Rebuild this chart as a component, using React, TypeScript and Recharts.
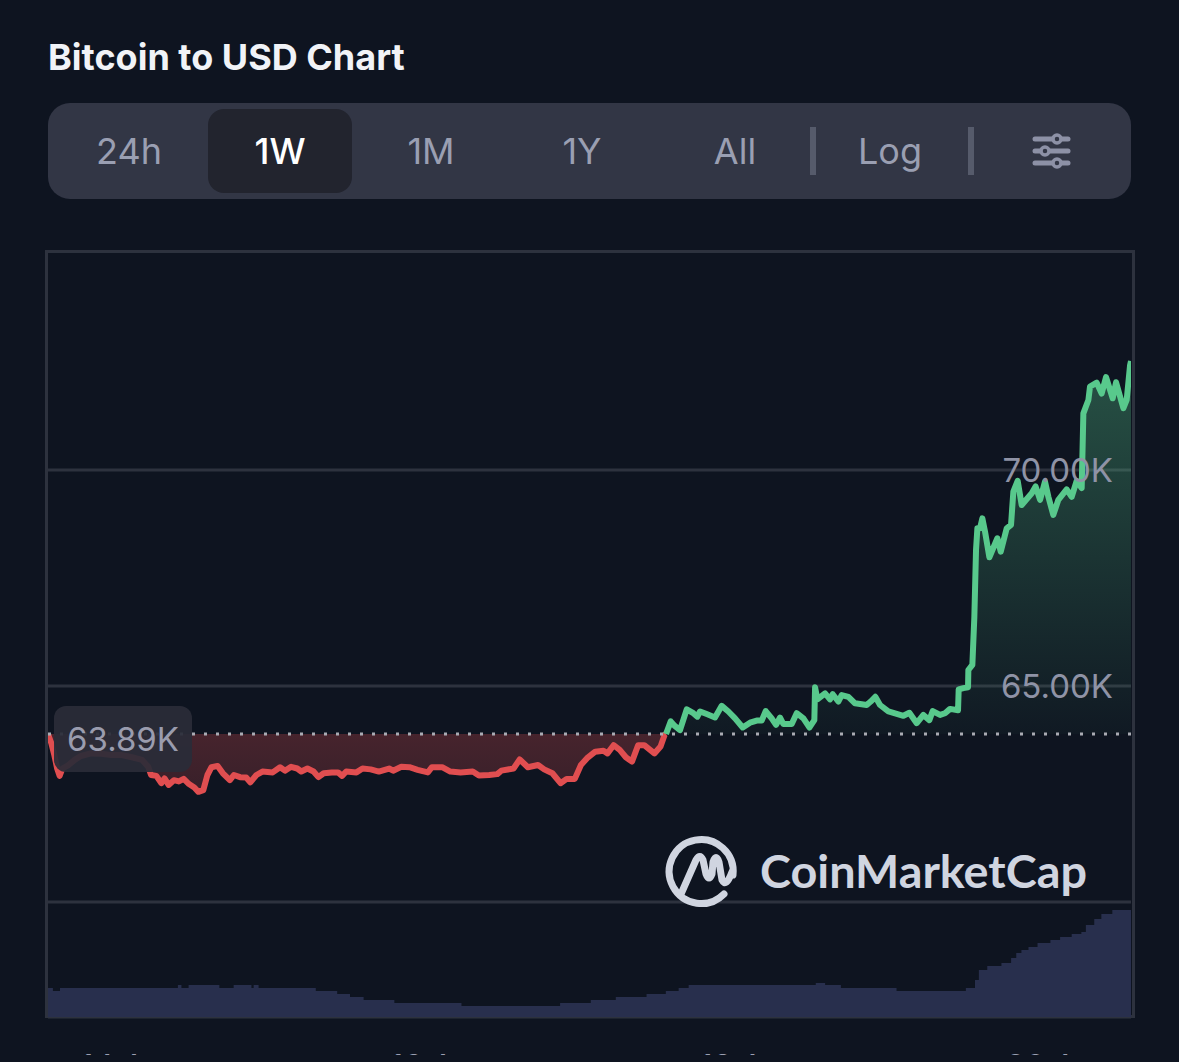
import { Area, CartesianGrid, ComposedChart, ReferenceLine, XAxis, YAxis } from 'recharts';

const ranges = ['24h', '1W', '1M', '1Y', 'All'];
const rangeCenters = [129, 280, 431, 582, 735];

const redHours = [0, 0.53, 0.98, 1.42, 1.8, 2.24, 3.19, 4.14, 5.09, 6.68, 8.26, 9.84, 11.43, 13.01, 14.59, 15.54, 15.99, 16.81, 17.57, 18.08, 18.71, 19.53, 20.29, 21.05, 21.87, 22.7, 23.33, 24.09, 24.73, 25.36, 26.31, 27.13, 28.21, 28.84, 29.79, 30.74, 31.38, 32.33, 33.27, 34.86, 36, 36.76, 37.71, 38.66, 39.29, 40.24, 41.19, 41.95, 42.77, 44.04, 44.99, 45.62, 46.26, 47.84, 48.79, 50.06, 51.32, 52.91, 53.54, 54.81, 56.07, 57.34, 58.92, 59.56, 61.14, 62.41, 64, 65.89, 66.84, 68.43, 69.69, 70.32, 72.22, 73.17, 74.44, 76.02, 76.97, 78.24, 79.51, 80.46, 81.72, 82.67, 83.62, 84.89, 86.16, 86.79, 87.74, 88.69, 89.64, 90.59, 91.54, 92.49, 94.07, 95.02, 95.66, 95.87];
const redPrices = [63.89, 63.67, 63.4, 63.09, 62.92, 63.09, 63.17, 63.29, 63.38, 63.44, 63.43, 63.4, 63.4, 63.35, 63.29, 63.13, 62.94, 62.92, 62.75, 62.86, 62.71, 62.82, 62.79, 62.85, 62.73, 62.65, 62.55, 62.59, 62.94, 63.12, 63.15, 62.98, 62.82, 62.94, 62.89, 62.88, 62.77, 62.94, 63.02, 63, 63.12, 63.04, 63.13, 63.09, 63.02, 63.09, 63.02, 62.89, 62.98, 63, 63, 62.92, 63.02, 63, 63.09, 63.07, 63.02, 63.09, 63.04, 63.13, 63.12, 63.06, 63, 63.12, 63.12, 63.02, 63, 63.02, 62.93, 62.94, 62.96, 63.04, 63.09, 63.3, 63.12, 63.17, 63.07, 62.98, 62.75, 62.85, 62.85, 63.17, 63.33, 63.48, 63.5, 63.44, 63.63, 63.52, 63.35, 63.25, 63.63, 63.63, 63.44, 63.6, 63.87, 63.89];

const greenHours = [95.87, 96.6, 97.27, 98.04, 99.08, 100.11, 100.73, 101.15, 102.18, 103.47, 104.51, 105.54, 106.58, 107.77, 108.9, 109.94, 110.71, 111.33, 112.26, 112.94, 113.56, 114.07, 115.37, 116.14, 117.18, 118.11, 118.88, 118.99, 119.35, 120.54, 121.31, 121.73, 122.6, 123.12, 124.16, 125.19, 127, 127.62, 128.34, 129.07, 130.36, 132.69, 133.62, 134.76, 135.79, 136.72, 137.24, 138.38, 139.15, 139.93, 141.17, 141.27, 142, 142.72, 142.77, 143.39, 143.7, 143.96, 144.17, 144.58, 144.94, 145.36, 146.03, 147.27, 147.79, 148.72, 149.39, 149.75, 150.42, 151.04, 152.6, 153.2, 153.9, 154.66, 155.18, 155.95, 156.73, 158.02, 158.8, 159.57, 160.35, 160.61, 161.39, 161.64, 162.68, 163.45, 164.13, 165.16, 165.68, 166.82, 167.33, 167.85, 168];
const greenPrices = [63.89, 64.18, 64.07, 63.98, 64.46, 64.37, 64.29, 64.41, 64.35, 64.27, 64.54, 64.41, 64.25, 64.04, 64.15, 64.2, 64.2, 64.42, 64.25, 64.1, 64.27, 64.12, 64.12, 64.37, 64.25, 64.04, 64.21, 64.97, 64.69, 64.83, 64.69, 64.81, 64.64, 64.79, 64.75, 64.6, 64.56, 64.64, 64.75, 64.56, 64.41, 64.31, 64.38, 64.14, 64.33, 64.21, 64.42, 64.33, 64.37, 64.47, 64.44, 64.92, 64.95, 64.97, 65.37, 65.49, 66.6, 68.15, 68.65, 68.65, 68.88, 68.57, 67.98, 68.42, 68.11, 68.65, 68.73, 69.5, 69.75, 69.19, 69.46, 69.62, 69.31, 69.73, 69.38, 68.96, 69.31, 69.55, 69.38, 69.75, 69.58, 71.31, 71.62, 71.93, 72.02, 71.77, 72.15, 71.66, 72.03, 71.43, 71.62, 72.42, 72.52];

const volumeHours = [0, 0.76, 1.86, 20.15, 20.7, 21.81, 26.58, 28.8, 31.56, 31.9, 32.67, 41.54, 44.86, 46.85, 48.96, 53.73, 64.14, 79.44, 84.2, 88.08, 92.85, 95.84, 97.83, 99.38, 119.1, 120.55, 123, 131.63, 142.38, 143.8, 144.4, 145.7, 147.9, 149.4, 150.2, 151, 152.1, 153.5, 155.5, 157, 158.8, 160.3, 161, 162.3, 163.4, 165.1, 168];
const volumes = [14.5, 13, 14.5, 16, 14.5, 16, 14.5, 16, 14.5, 16, 14.5, 13, 11.5, 10, 8.5, 7, 5.5, 7, 8.5, 10, 11.5, 13, 14.5, 16, 17, 16, 14.5, 13, 14.5, 18.5, 23.5, 25.5, 27, 29.5, 32, 33.5, 35, 37, 38.5, 40, 41.5, 42.5, 46, 49, 51.5, 53.5, 53.5];

const baseline = 63.89;
const priceTicks = [60, 65, 70];
const dayTicks = [12.5, 60.5, 108.5, 156.5];
const dayLabels = ['14 Apr', '16 Apr', '18 Apr', '20 Apr'];

const pageBg = '#0e1420';
const gridColor = '#2d323e';

type Row = { t: number; red?: number; green?: number; volume?: number };

function buildRows(): Row[] {
  const rows = new Map<number, Row>();
  const put = (t: number, key: 'red' | 'green' | 'volume', value: number) => {
    const row = rows.get(t) ?? { t };
    row[key] = value;
    rows.set(t, row);
  };
  redHours.forEach((t, i) => put(t, 'red', redPrices[i]));
  greenHours.forEach((t, i) => put(t, 'green', greenPrices[i]));
  volumeHours.forEach((t, i) => put(t, 'volume', volumes[i]));
  return [...rows.values()].sort((a, b) => a.t - b.t);
}

const font = 'Inter, sans-serif';

function Label({ x, y, children, color = '#9a9fb2', weight = 400 }: { x: number; y: number; children: string; color?: string; weight?: number }) {
  return (
    <div
      style={{
        position: 'absolute',
        left: x - 80,
        top: y - 25,
        width: 160,
        height: 50,
        lineHeight: '50px',
        textAlign: 'center',
        fontSize: 36,
        fontWeight: weight,
        color,
      }}
    >
      {children}
    </div>
  );
}

function SlidersIcon() {
  return (
    <svg style={{ position: 'absolute', left: 1030, top: 130 }} width={44} height={42}>
      <g stroke="#8d91a6" strokeWidth={5} strokeLinecap="round">
        <line x1={5} y1={9} x2={38} y2={9} />
        <line x1={5} y1={21} x2={38} y2={21} />
        <line x1={5} y1={33} x2={38} y2={33} />
        <circle cx={27} cy={9} r={4} fill="#323645" strokeWidth={3.5} />
        <circle cx={15} cy={21} r={4} fill="#323645" strokeWidth={3.5} />
        <circle cx={27} cy={33} r={4} fill="#323645" strokeWidth={3.5} />
      </g>
    </svg>
  );
}

function Watermark() {
  return (
    <svg style={{ position: 'absolute', left: 650, top: 820 }} width={450} height={100}>
      <g fill="none" stroke="#d0d5e0" strokeWidth={7} strokeLinecap="round" strokeLinejoin="round">
        <path d="M 74 74 A 32 32 0 1 1 83 55" />
        <path d="M 31 74 L 46 40 Q 50 33 53 40 L 56 54 Q 59 62 62 54 L 63 42 Q 66 33 69 42 L 72 60 Q 76 68 82 52" />
      </g>
      <text x={110} y={68} fontFamily="Lato, sans-serif" fontWeight={700} fontSize={46} fill="#d0d5e0" textLength={327} lengthAdjust="spacingAndGlyphs">
        CoinMarketCap
      </text>
    </svg>
  );
}

export default function App() {
  const rows = buildRows();

  return (
    <div style={{ position: 'fixed', left: 0, top: 0, width: 1179, height: 1062, overflow: 'hidden', background: pageBg, fontFamily: font }}>
      <div style={{ position: 'absolute', left: 48, top: 34, fontSize: 36, lineHeight: '46px', fontWeight: 700, color: '#f1f3f7', whiteSpace: 'nowrap' }}>
        Bitcoin to USD Chart
      </div>

      <div style={{ position: 'absolute', left: 48, top: 103, width: 1083, height: 96, borderRadius: 22, background: '#323645' }} />
      <div style={{ position: 'absolute', left: 208, top: 109, width: 144, height: 84, borderRadius: 16, background: '#22242e' }} />
      {ranges.map((r, i) => (
        <Label key={r} x={rangeCenters[i]} y={151} color={r === '1W' ? '#ffffff' : '#9a9fb2'} weight={r === '1W' ? 500 : 400}>
          {r}
        </Label>
      ))}
      <Label x={890} y={151}>Log</Label>
      <div style={{ position: 'absolute', left: 810, top: 127, width: 6, height: 48, background: '#565b6b' }} />
      <div style={{ position: 'absolute', left: 968, top: 127, width: 6, height: 48, background: '#565b6b' }} />
      <SlidersIcon />

      <div style={{ position: 'absolute', left: 45, top: 250, width: 1084, height: 762, border: `3px solid ${gridColor}` }} />

      <div style={{ position: 'absolute', left: 48, top: 251 }}>
        <ComposedChart width={1083} height={826} data={rows} margin={{ top: 0, right: 0, bottom: 0, left: 0 }}>
          <defs>
            <linearGradient id="greenFill" x1="0" y1="0" x2="0" y2="1">
              <stop offset="0%" stopColor="#58c98c" stopOpacity={0.34} />
              <stop offset="100%" stopColor="#58c98c" stopOpacity={0.03} />
            </linearGradient>
            <linearGradient id="redFill" x1="0" y1="0" x2="0" y2="1">
              <stop offset="0%" stopColor="#e04e50" stopOpacity={0.27} />
              <stop offset="100%" stopColor="#e04e50" stopOpacity={0.2} />
            </linearGradient>
          </defs>
          <CartesianGrid yAxisId="price" vertical={false} stroke={gridColor} strokeWidth={3} />
          <XAxis
            dataKey="t"
            type="number"
            domain={[0, 168]}
            ticks={dayTicks}
            interval={0}
            height={60}
            axisLine={false}
            tickLine={false}
            tickMargin={32}
            tick={{ fontSize: 32, fill: '#9a9fb2', fontFamily: font }}
            tickFormatter={(v) => dayLabels[dayTicks.indexOf(v)]}
          />
          <YAxis yAxisId="volume" hide domain={[0, 383]} />
          <YAxis
            yAxisId="price"
            orientation="right"
            mirror
            width={120}
            interval={0}
            domain={[57.338, 75.069]}
            allowDataOverflow
            ticks={priceTicks}
            axisLine={false}
            tickLine={false}
            tickMargin={12}
            tick={{ fontSize: 33, fill: '#8f93a6', fontFamily: font }}
            tickFormatter={(v) => (v === 60 ? '' : `${v.toFixed(2)}K`)}
          />
          <Area
            yAxisId="volume"
            dataKey="volume"
            type="stepAfter"
            connectNulls
            stroke="none"
            fill="#282f4d"
            fillOpacity={1}
            isAnimationActive={false}
          />
          <ReferenceLine yAxisId="price" y={baseline} stroke="#a9abb3" strokeWidth={3} strokeDasharray="3 9" />
          <Area
            yAxisId="price"
            dataKey="red"
            type="linear"
            connectNulls
            baseValue={baseline}
            stroke="#e04e50"
            strokeWidth={6}
            strokeLinejoin="round"
            fill="url(#redFill)"
            fillOpacity={1}
            isAnimationActive={false}
          />
          <Area
            yAxisId="price"
            dataKey="green"
            type="linear"
            connectNulls
            baseValue={baseline}
            stroke="#58c98c"
            strokeWidth={6}
            strokeLinejoin="round"
            fill="url(#greenFill)"
            fillOpacity={1}
            isAnimationActive={false}
          />
        </ComposedChart>
      </div>

      {/* the reference screenshot stops just under the top of the date labels */}
      <div style={{ position: 'absolute', left: 0, top: 1055, width: 1179, height: 7, background: pageBg }} />

      <div
        style={{
          position: 'absolute',
          left: 54,
          top: 706,
          width: 138,
          height: 66,
          lineHeight: '66px',
          textAlign: 'center',
          borderRadius: 12,
          background: 'rgba(42,44,56,0.93)',
          color: '#9a9cae',
          fontSize: 33,
        }}
      >
        63.89K
      </div>

      <Watermark />
    </div>
  );
}
